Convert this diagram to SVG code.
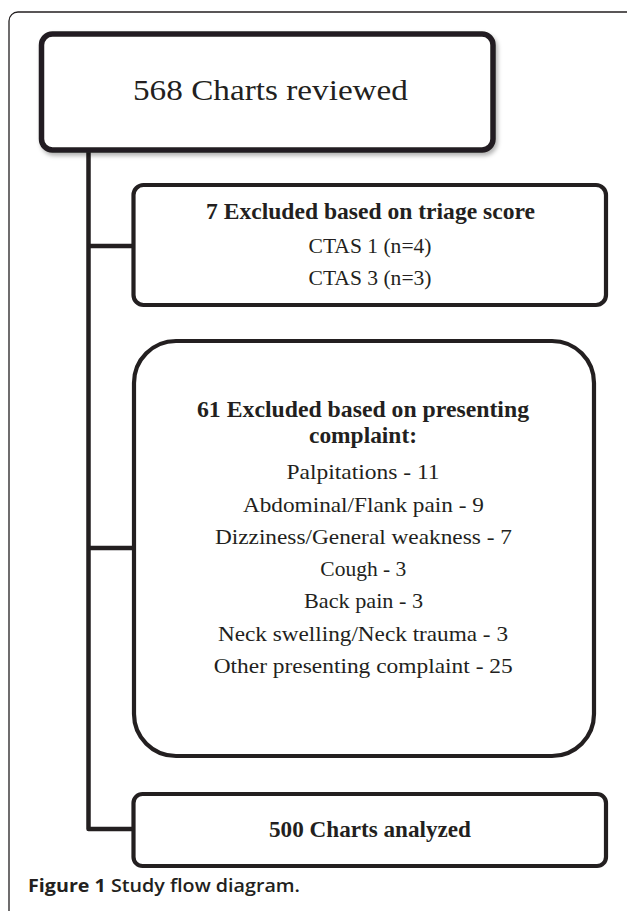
<svg xmlns="http://www.w3.org/2000/svg" width="627" height="911" viewBox="0 0 627 911">
  <defs>
    <filter id="shadow" x="-5%" y="-10%" width="115%" height="130%">
      <feDropShadow dx="2" dy="3" stdDeviation="2" flood-color="#000" flood-opacity="0.3"/>
    </filter>
  </defs>
  <style>
    .box { fill: #fff; stroke: #231f20; stroke-width: 4.2; }
    .conn { fill: none; stroke: #231f20; stroke-width: 4.5; stroke-linejoin: round; }
    .t { font-family: "Liberation Serif", "Times New Roman", serif; fill: #231f20; text-anchor: middle; }
    .reg { font-size: 22px; }
    .bold { font-size: 23px; font-weight: bold; }
    .cap { font-family: "Open Sans", "Liberation Sans", Arial, sans-serif; fill: #231f20; font-size: 18px; }
  </style>
  <rect width="627" height="911" fill="#fff"/>
  <path d="M9,911 V21 A9,9 0 0 1 18,12 H627" fill="none" stroke="#231f20" stroke-width="1.3"/>

  <g id="connectors">
    <path class="conn" d="M88.5,150 V829 H133"/>
    <path class="conn" d="M88.5,246 H133"/>
    <path class="conn" d="M88.5,548 H134"/>
  </g>

  <g id="n1">
    <rect x="41.5" y="34" width="451.5" height="116" rx="11" class="box" style="stroke-width:5.5" filter="url(#shadow)"/>
    <text class="t" x="270.5" y="100" font-size="29" textLength="275" lengthAdjust="spacingAndGlyphs">568 Charts reviewed</text>
  </g>

  <g id="n2">
    <rect x="133.5" y="185" width="472.5" height="120" rx="10" class="box"/>
    <text class="t bold" x="370.5" y="219" textLength="329" lengthAdjust="spacingAndGlyphs">7 Excluded based on triage score</text>
    <text class="t reg" x="370" y="253" textLength="123" lengthAdjust="spacingAndGlyphs">CTAS 1 (n=4)</text>
    <text class="t reg" x="370" y="285" textLength="123" lengthAdjust="spacingAndGlyphs">CTAS 3 (n=3)</text>
  </g>

  <g id="n3">
    <rect x="134" y="341" width="460" height="415" rx="42" class="box"/>
    <text class="t bold" x="363" y="417" textLength="332" lengthAdjust="spacingAndGlyphs">61 Excluded based on presenting</text>
    <text class="t bold" x="363" y="443" textLength="108" lengthAdjust="spacingAndGlyphs">complaint:</text>
    <text class="t reg" x="363" y="479" textLength="153" lengthAdjust="spacingAndGlyphs">Palpitations - 11</text>
    <text class="t reg" x="363.4" y="511.5" textLength="241" lengthAdjust="spacingAndGlyphs">Abdominal/Flank pain - 9</text>
    <text class="t reg" x="363.4" y="543.5" textLength="297" lengthAdjust="spacingAndGlyphs">Dizziness/General weakness - 7</text>
    <text class="t reg" x="363.3" y="576" textLength="86" lengthAdjust="spacingAndGlyphs">Cough - 3</text>
    <text class="t reg" x="363.5" y="608" textLength="119" lengthAdjust="spacingAndGlyphs">Back pain - 3</text>
    <text class="t reg" x="363" y="640.5" textLength="290" lengthAdjust="spacingAndGlyphs">Neck swelling/Neck trauma - 3</text>
    <text class="t reg" x="363.2" y="672.7" textLength="299" lengthAdjust="spacingAndGlyphs">Other presenting complaint - 25</text>
  </g>

  <g id="n4">
    <rect x="133.5" y="794" width="472.5" height="72" rx="9" class="box"/>
    <text class="t bold" x="370" y="837" textLength="202" lengthAdjust="spacingAndGlyphs">500 Charts analyzed</text>
  </g>

  <text class="cap" x="28" y="892" textLength="272" lengthAdjust="spacingAndGlyphs"><tspan font-weight="700">Figure 1</tspan><tspan font-weight="600"> Study flow diagram.</tspan></text>
</svg>
